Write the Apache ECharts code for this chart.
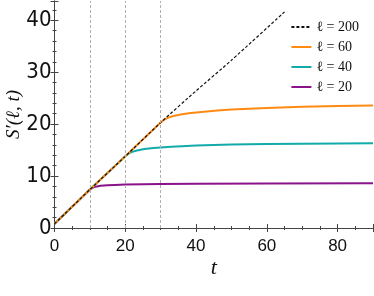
<!DOCTYPE html>
<html><head><meta charset="utf-8">
<script src="https://cdn.jsdelivr.net/npm/echarts@6/dist/echarts.min.js"></script>
<style>html,body{margin:0;padding:0;background:#fff}#c{width:374px;height:296px}</style>
</head><body><div id="c"></div>
<script>
const xTicks = [0, 20, 40, 60, 80];
const yTicks = [0, 10, 20, 30, 40];
const vlines = [10, 20, 30];

const names = ['ℓ = 200', 'ℓ = 60', 'ℓ = 40', 'ℓ = 20'];

const t200 = [0, 10, 20, 30, 40, 50, 65];
const s200 = [0.8, 7.4, 13.8, 20.3, 26.4, 32.3, 41.6];

const t60 = [0, 10, 20, 30, 30.5, 31, 31.5, 32, 33, 34, 35, 36, 38, 40, 43, 46, 50, 55, 60, 70, 80, 90];
const s60 = [0.8, 7.4, 13.8, 20.3, 20.6, 20.85, 21.05, 21.2, 21.45, 21.62, 21.76, 21.88, 22.08, 22.25, 22.45, 22.62, 22.8, 22.98, 23.12, 23.35, 23.5, 23.6];

const t40 = [0, 10, 20, 20.5, 21, 21.5, 22, 23, 24, 25, 26, 28, 30, 33, 36, 40, 45, 50, 60, 70, 90];
const s40 = [0.8, 7.4, 13.8, 14.1, 14.35, 14.52, 14.66, 14.88, 15.03, 15.15, 15.25, 15.4, 15.52, 15.66, 15.76, 15.87, 15.98, 16.06, 16.16, 16.23, 16.3];

const t20 = [0, 10, 10.5, 11, 11.5, 12, 13, 14, 15, 17, 20, 25, 30, 40, 60, 90];
const s20 = [0.8, 7.4, 7.65, 7.82, 7.93, 8.01, 8.12, 8.19, 8.24, 8.3, 8.36, 8.41, 8.45, 8.5, 8.55, 8.6];

const colors = ['#111111', '#ff8a12', '#12aaaa', '#8a128a'];

const pairs = (t, s) => t.map((v, i) => [v, s[i]]);

const chart = echarts.init(document.getElementById('c'), null, {renderer: 'canvas'});
const axisLineStyle = {color: '#444', width: 1};
const common = {min: 0, splitLine: {show: false}};
const sans = "'DejaVu Sans Condensed', 'Liberation Sans', sans-serif";
chart.setOption({
  animation: false,
  grid: {left: 54.5, right: 1, top: 1, bottom: 68, outerBoundsMode: 'none', containLabel: false},
  legend: {
    data: names,
    orient: 'vertical',
    right: 10,
    top: 15,
    itemWidth: 20,
    itemHeight: 14,
    itemGap: 6,
    itemStyle: {opacity: 0},
    textStyle: {fontFamily: "'Liberation Serif', 'DejaVu Serif', serif", fontSize: 14, color: '#111'}
  },
  xAxis: [
    Object.assign({}, common, {
      type: 'value', max: 90, interval: 20, position: 'bottom',
      axisLine: {show: true, lineStyle: axisLineStyle},
      axisTick: {show: true, inside: true, length: 4, lineStyle: axisLineStyle},
      minorTick: {show: true, splitNumber: 4, length: 2, lineStyle: {color: '#444'}},
      axisLabel: {fontFamily: "'Liberation Sans', sans-serif", fontSize: 17, color: '#111', margin: 10,
        formatter: v => xTicks.includes(v) ? String(v) : ''},
      name: 't', nameLocation: 'middle', nameGap: 29, nameMoveOverlap: false,
      nameTextStyle: {fontFamily: 'Liberation Serif', fontStyle: 'italic', fontSize: 22, color: '#111'}
    }),
    Object.assign({}, common, {
      type: 'value', max: 90, interval: 20, position: 'top',
      axisLine: {show: true, lineStyle: axisLineStyle},
      axisTick: {show: true, inside: true, length: 4, lineStyle: axisLineStyle},
      minorTick: {show: true, splitNumber: 4, length: 2, lineStyle: {color: '#444'}},
      axisLabel: {show: false}
    })
  ],
  yAxis: [
    Object.assign({}, common, {
      type: 'value', max: 43.7, interval: 10, position: 'left',
      axisLine: {show: true, lineStyle: axisLineStyle},
      axisTick: {show: true, inside: true, length: 4, lineStyle: axisLineStyle},
      minorTick: {show: true, splitNumber: 5, length: 2, lineStyle: {color: '#444'}},
      axisLabel: {fontFamily: sans, fontSize: 22, color: '#111', margin: 3,
        formatter: v => yTicks.includes(v) ? String(v) : ''},
      name: 'S′(ℓ, t)', nameLocation: 'middle', nameGap: 31, nameRotate: 90, nameMoveOverlap: false,
      nameTextStyle: {fontFamily: "'Liberation Serif', 'DejaVu Serif', serif", fontStyle: 'italic', fontSize: 19, color: '#111'}
    }),
    Object.assign({}, common, {
      type: 'value', max: 43.7, interval: 10, position: 'right',
      axisLine: {show: true, lineStyle: axisLineStyle},
      axisTick: {show: true, inside: true, length: 4, lineStyle: axisLineStyle},
      minorTick: {show: true, splitNumber: 5, length: 2, lineStyle: {color: '#444'}},
      axisLabel: {show: false}
    })
  ],
  series: [
    {name: names[3], type: 'line', data: pairs(t20, s20), symbol: 'none',
      lineStyle: {color: colors[3], width: 2}, itemStyle: {color: colors[3]},
      markLine: {silent: true, symbol: 'none', label: {show: false},
        lineStyle: {color: '#b0b0b0', type: [3, 2], width: 1},
        data: vlines.map(v => ({xAxis: v}))}},
    {name: names[2], type: 'line', data: pairs(t40, s40), symbol: 'none',
      lineStyle: {color: colors[2], width: 2}, itemStyle: {color: colors[2]}},
    {name: names[1], type: 'line', data: pairs(t60, s60), symbol: 'none',
      lineStyle: {color: colors[1], width: 2}, itemStyle: {color: colors[1]}},
    {name: names[0], type: 'line', data: pairs(t200, s200), symbol: 'none', smooth: 0.2,
      lineStyle: {color: colors[0], width: 1.2, type: [3, 2]}, itemStyle: {color: colors[0]}}
  ]
});
</script></body></html>
